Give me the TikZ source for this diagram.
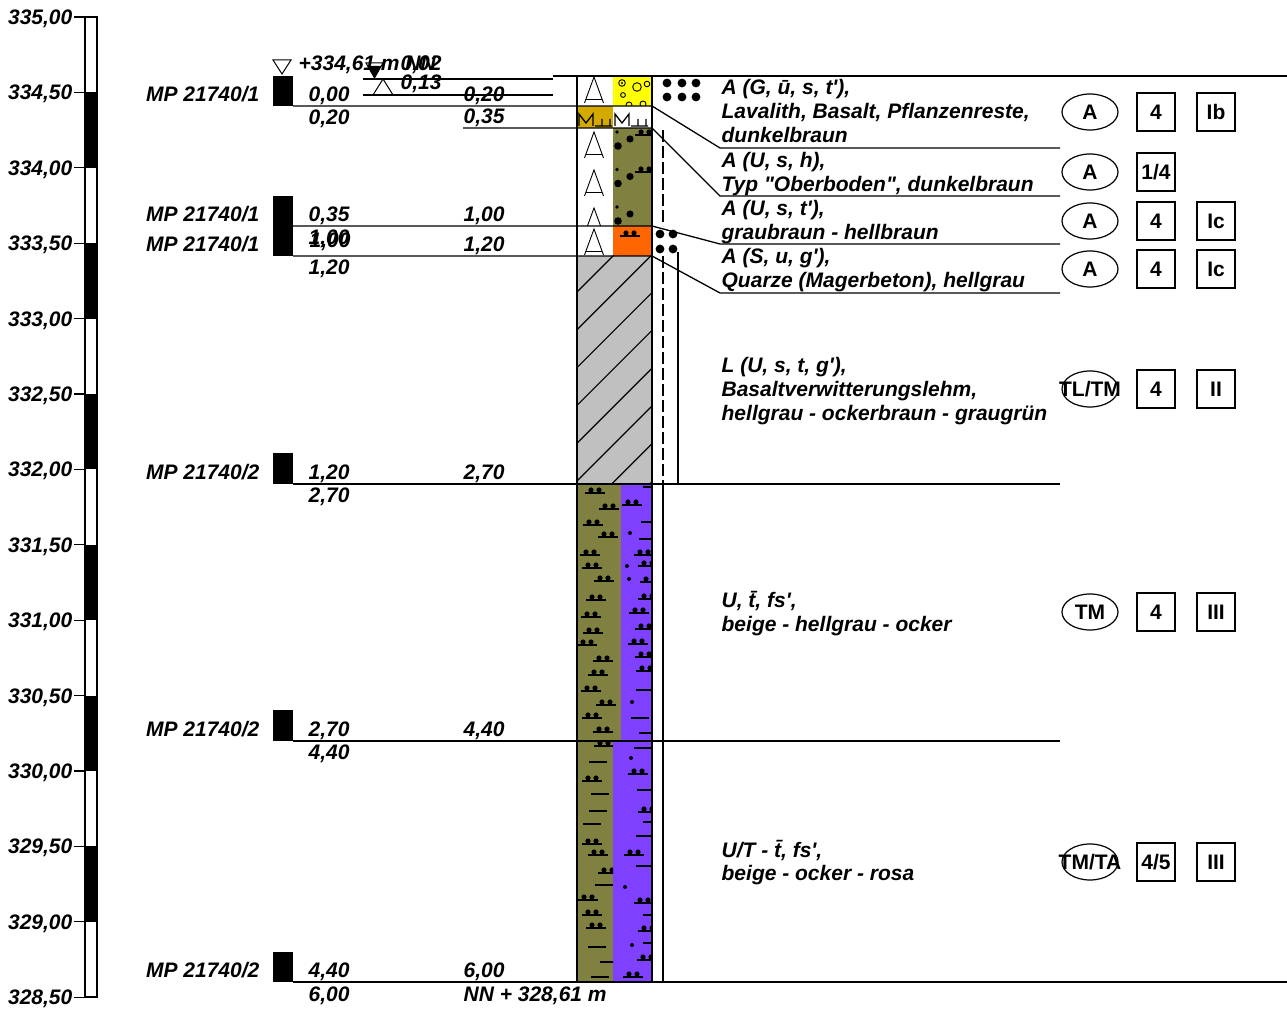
\documentclass[tikz,border=0pt]{standalone}
\usepackage{fontspec}
\setmainfont{Liberation Sans}
\usetikzlibrary{shapes}
\definecolor{soilOlive}{RGB}{128,128,64}
\definecolor{soilViolet}{RGB}{128,64,255}
\definecolor{soilOrange}{RGB}{255,102,0}
\definecolor{soilYellow}{RGB}{255,255,0}
\definecolor{soilOcher}{RGB}{212,170,0}
\definecolor{soilGrey}{RGB}{192,192,192}
\tikzset{lbl/.style = {font=\fontsize{10.5}{12}\selectfont\bfseries\itshape, inner sep=0pt},
  depth/.style = {lbl, anchor=base west},
  sample/.style = {lbl, anchor=base east},
  desc/.style = {lbl, anchor=base west, align=left},
  soilgroup/.style = {ellipse, draw, line width=0.6pt, minimum width=28pt, minimum height=18pt,
    inner sep=0pt, font=\fontsize{10.5}{12}\selectfont\bfseries},
  classbox/.style = {rectangle, draw, line width=0.7pt, minimum size=19pt, inner sep=0pt,
    font=\fontsize{10.5}{12}\selectfont\bfseries},
  fillsym/.style = {line width=0.45pt}}
\newcommand{\siltsym}[2]{\fill (#1-4,#2) circle (2.6) (#1+4,#2) circle (2.6);
  \draw[line width=1pt] (#1-10,#2+3) -- (#1+10,#2+3);}
\newcommand{\claysym}[2]{\draw[line width=1pt] (#1-9,#2) -- (#1+9,#2);}
\newcommand{\sandsym}[2]{\fill (#1,#2) circle (2);}
\newcommand{\fillA}[2]{\draw[fillsym] (#1-9.5,#2+26) -- (#1,#2) -- (#1+9.5,#2+26)
  (#1-8.2,#2+22.5) -- (#1+8.2,#2+22.5);}
\newcommand{\markM}[1]{\draw[line width=0.65pt] (#1,126) -- (#1,114) -- (#1+7,123) -- (#1+14,114) -- (#1+14,126)
  (#1+16,126) -- (#1+33,126) (#1+23,119) -- (#1+23,126) (#1+31,119) -- (#1+31,126);}

\begin{document}
\begin{tikzpicture}[x=0.5pt, y=-0.5pt, line width=0.65pt]
  \useasboundingbox (0,0) rectangle (1287,1010);

  % elevation scale
  \draw (85,17) rectangle (97,997);
  \foreach \i in {0,...,12}
    {\ifodd\i \fill (85,{17+75.4*\i}) rectangle (97,{17+75.4*(\i+1)}); \fi}
  \foreach \i in {0,...,13}
    {\draw (74,{17+75.4*\i}) -- (85,{17+75.4*\i});
     \pgfmathsetmacro{\elev}{335-0.5*\i}
     \node[sample] (elev\i) at (73,{24.5+75.4*\i})
       {\pgfmathprintnumber[fixed,fixed zerofill,precision=2,use comma,assume math mode=true]{\elev}};}

  % layer fills
  \fill[soilYellow] (613,76) rectangle (652,106);
  \fill[soilOcher] (577,106) rectangle (613,128);
  \fill[soilOlive] (613,128) rectangle (652,226);
  \fill[soilOrange] (613,226) rectangle (652,256);
  \fill[soilGrey] (577,256) rectangle (652,484);
  \fill[soilOlive] (577,484) rectangle (621,741);
  \fill[soilViolet] (621,484) rectangle (652,741);
  \fill[soilOlive] (577,741) rectangle (613,982);
  \fill[soilViolet] (613,741) rectangle (652,982);

  % fill symbols A
  \begin{scope}
    \clip (577,76) rectangle (613,106);
    \fillA{594}{77}
  \end{scope}
  \begin{scope}
    \clip (577,128) rectangle (613,226);
    \fillA{594}{132} \fillA{594}{170} \fillA{594}{208}
  \end{scope}
  \begin{scope}
    \clip (577,226) rectangle (613,256);
    \fillA{594}{229}
  \end{scope}

  % gravel, topsoil
  \begin{scope}
    \clip (613,76) rectangle (652,106);
    \draw[fillsym] (622,83) circle (3.3) (637,87) circle (4.3) (647,84) circle (2.8)
      (623,95) circle (2.4) (629,105) circle (3) (643,104) circle (3);
    \fill (622,83) circle (1.2);
  \end{scope}
  \markM{579} \markM{615}
  \begin{scope}
    \clip (613,128) rectangle (652,226);
    \foreach \y in {0,37.5,75}
      {\fill (617,{132+\y}) circle (1.8) (630,{139+\y}) circle (3.6) (618,{146+\y}) circle (3.8);}
    \siltsym{645}{132} \siltsym{645}{169}
  \end{scope}
  \siltsym{630}{233}
  \foreach \x/\y in {667/83, 682/83, 696/83, 667/97, 682/97, 696/97, 660/234, 673/234, 660/249, 673/249}
    {\fill (\x,\y) circle (4.4);}

  % hatch made ground
  \begin{scope}
    \clip (577,256) rectangle (652,484);
    \foreach \k in {-1,...,8}
      \draw[line width=0.6pt] (577,{292+37.8*\k}) -- ++(100,-100);
  \end{scope}

  % silt and clay symbols
  \begin{scope}
    \clip (577,484) rectangle (621,741);
    \foreach \x/\y in {595/490, 609/506, 593/522, 608/534, 590/552, 592/565, 604/578, 596/597,
      591/614, 593/630, 587/642, 603/658, 598/672, 591/688, 606/702, 592/715, 603/729}
      {\siltsym{\x}{\y}}
  \end{scope}
  \begin{scope}
    \clip (621,484) rectangle (652,741);
    \foreach \x/\y in {632/502, 644/552, 648/563, 650/579, 648/596, 639/610, 645/626, 638/641,
      645/654, 646/668}
      {\siltsym{\x}{\y}}
    \foreach \x/\y in {652/487, 650/522, 648/539, 645/690, 640/718, 648/733}
      {\claysym{\x}{\y}}
    \foreach \x/\y in {630/533, 627/566, 629/579, 632/702}
      {\sandsym{\x}{\y}}
  \end{scope}
  \begin{scope}
    \clip (577,741) rectangle (613,982);
    \foreach \x/\y in {604/743, 592/778, 592/841, 598/852, 608/870, 588/897, 592/912, 596/925}
      {\siltsym{\x}{\y}}
    \foreach \x/\y in {598/762, 600/794, 598/811, 592/824, 604/885, 597/947, 609/962, 600/977}
      {\claysym{\x}{\y}}
  \end{scope}
  \begin{scope}
    \clip (613,741) rectangle (652,982);
    \foreach \x/\y in {638/771, 648/809, 634/852, 644/900, 648/928, 647/957, 633/974}
      {\siltsym{\x}{\y}}
    \foreach \x/\y in {643/748, 646/790, 652/822, 645/836, 645/866, 652/915, 652/943}
      {\claysym{\x}{\y}}
    \foreach \x/\y in {631/758, 625/887, 632/945}
      {\sandsym{\x}{\y}}
  \end{scope}

  % column and side lines
  \draw (577,76) rectangle (652,982);
  \draw[dash pattern=on 6pt off 2pt] (663,130) -- (663,226);
  \draw[dash pattern=on 6pt off 2pt] (663,256) -- (663,484);
  \draw (678,252) -- (678,484);
  \draw (663,484) -- (663,982);

  % layer boundaries
  \coordinate (b1) at (652,106); \coordinate (d1) at (720,148);
  \coordinate (b2) at (652,128); \coordinate (d2) at (720,196);
  \coordinate (b3) at (652,226); \coordinate (d3) at (720,244);
  \coordinate (b4) at (652,256); \coordinate (d4) at (720,293);
  \draw (553,76) -- (1287,76);
  \draw (293,106) -- (b1) -- (d1) -- (1060,148);
  \draw (463,128) -- (b2) -- (d2) -- (1060,196);
  \draw (293,226) -- (b3) -- (d3) -- (1060,244);
  \draw (293,256) -- (b4) -- (d4) -- (1060,293);
  \draw (293,484) -- (1060,484);
  \draw (293,741) -- (1060,741);
  \draw (293,982) -- (1287,982);

  % water levels
  \draw (363,79) -- (553,79);
  \draw (363,95) -- (553,95);
  \draw[line width=0.5pt] (273,60) -- (291,60) -- (282,74) -- cycle;
  \node[depth] (nn) at (298,71) {+334,61 m NN};
  \draw[line width=0.5pt] (366,63) -- (383,63) -- (374.5,78) -- cycle;
  \fill (368,66) -- (381,66) -- (374.5,78) -- cycle;
  \node[depth] (gw1) at (400,71) {0,02};
  \draw[line width=0.5pt] (373,95) -- (393,95) -- (383,79) -- cycle;
  \node[depth] (gw2) at (400,90) {0,13};

  % samples
  \fill (273,76) rectangle (293,106);
  \node[sample] (mp1) at (260,102) {MP 21740/1};
  \node[depth] (top1) at (308,102) {0,00};
  \node[depth] (bot1) at (308,125) {0,20};
  \fill (273,196) rectangle (293,226);
  \node[sample] (mp2) at (260,222) {MP 21740/1};
  \node[depth] (top2) at (308,222) {0,35};
  \node[depth] (bot2) at (308,245) {1,00};
  \fill (273,226) rectangle (293,256);
  \node[sample] (mp3) at (260,252) {MP 21740/1};
  \node[depth] (top3) at (309,248) {1,00};
  \node[depth] (bot3) at (308,275) {1,20};
  \fill (273,453) rectangle (293,484);
  \node[sample] (mp4) at (260,480) {MP 21740/2};
  \node[depth] (top4) at (308,480) {1,20};
  \node[depth] (bot4) at (308,503) {2,70};
  \fill (273,710) rectangle (293,741);
  \node[sample] (mp5) at (260,737) {MP 21740/2};
  \node[depth] (top5) at (308,737) {2,70};
  \node[depth] (bot5) at (308,760) {4,40};
  \fill (273,952) rectangle (293,982);
  \node[sample] (mp6) at (260,978) {MP 21740/2};
  \node[depth] (top6) at (308,978) {4,40};
  \node[depth] (bot6) at (308,1001) {6,00};

  % layer depths
  \node[depth] (z1) at (463,102) {0,20};
  \node[depth] (z2) at (463,124) {0,35};
  \node[depth] (z3) at (463,222) {1,00};
  \node[depth] (z4) at (463,252) {1,20};
  \node[depth] (z5) at (463,480) {2,70};
  \node[depth] (z6) at (463,737) {4,40};
  \node[depth] (z7) at (463,978) {6,00};
  \node[depth] (base) at (463,1001) {NN + 328,61 m};

  % descriptions (anchored at last line)
  \node[desc] (desc1) at (721,143) {A (G, \=u, s, t\textquotesingle),\\Lavalith, Basalt, Pflanzenreste,\\dunkelbraun};
  \node[desc] (desc2) at (721,192) {A (U, s, h),\\Typ \textquotedbl Oberboden\textquotedbl, dunkelbraun};
  \node[desc] (desc3) at (721,240) {A (U, s, t\textquotesingle),\\graubraun - hellbraun};
  \node[desc] (desc4) at (721,288) {A (S, u, g\textquotesingle),\\Quarze (Magerbeton), hellgrau};
  \node[desc] (desc5) at (721,421) {L (U, s, t, g\textquotesingle),\\Basaltverwitterungslehm,\\hellgrau - ockerbraun - graugrün};
  \node[desc] (desc6) at (721,632) {U, \=t, fs\textquotesingle,\\beige - hellgrau - ocker};
  \node[desc] (desc7) at (721,881) {U/T - \=t, fs\textquotesingle,\\beige - ocker - rosa};

  % classes
  \node[soilgroup] (grp1) at (1090,112) {A};
  \node[classbox] (cls1) at (1156,112) {4};
  \node[classbox] (hom1) at (1216,112) {Ib};
  \node[soilgroup] (grp2) at (1090,172) {A};
  \node[classbox] (cls2) at (1156,172) {1/4};
  \node[soilgroup] (grp3) at (1090,221) {A};
  \node[classbox] (cls3) at (1156,221) {4};
  \node[classbox] (hom3) at (1216,221) {Ic};
  \node[soilgroup] (grp4) at (1090,269) {A};
  \node[classbox] (cls4) at (1156,269) {4};
  \node[classbox] (hom4) at (1216,269) {Ic};
  \node[soilgroup] (grp5) at (1090,389) {\makebox[0pt]{TL/TM}};
  \node[classbox] (cls5) at (1156,389) {4};
  \node[classbox] (hom5) at (1216,389) {II};
  \node[soilgroup] (grp6) at (1090,612) {TM};
  \node[classbox] (cls6) at (1156,612) {4};
  \node[classbox] (hom6) at (1216,612) {III};
  \node[soilgroup] (grp7) at (1090,862) {\makebox[0pt]{TM/TA}};
  \node[classbox] (cls7) at (1156,862) {4/5};
  \node[classbox] (hom7) at (1216,862) {III};
\end{tikzpicture}
\end{document}
